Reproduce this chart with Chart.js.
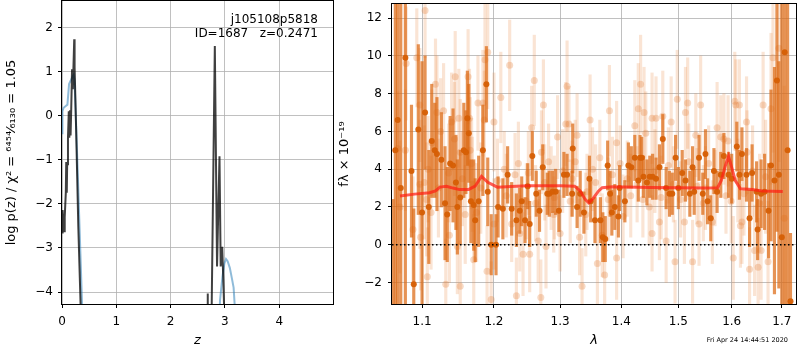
<!DOCTYPE html>
<html>
<head>
<meta charset="utf-8">
<script src="https://cdn.jsdelivr.net/npm/chart.js@4.4.1/dist/chart.umd.min.js"></script>
<style>
  body { margin: 0; background: #fff; }
  #wrap { position: relative; width: 800px; height: 350px; overflow: hidden; }
  #left { position: absolute; left: 0; top: 0; }
  #right { position: absolute; left: 334px; top: 0; }
</style>
</head>
<body>
<div id="wrap">
  <canvas id="left" width="340" height="350"></canvas>
  <canvas id="right" width="466" height="350"></canvas>
</div>
<script>
// ---- left panel: log p(z) ----
var zDark = [0.003, 0.012, 0.025, 0.04, 0.05, 0.07, 0.078, 0.088, 0.095, 0.11,
  0.125, 0.135, 0.148, 0.158, 0.17, 0.185, 0.2, 0.21, 0.225, 0.232,
  0.26, 0.3, 0.344, 0.4, 2.64, 2.672, 2.68, 2.688, 2.745, 2.814,
  2.855, 2.9, 2.922, 2.95, 2.97, 3.0, 3.1];
var pDark = [-2.65, -2.14, -2.6, -2.62, -2.3, -1.75, -1.05, -1.75, -1.1, -0.5,
  0.1, -0.5, 0.12, -0.45, 0.15, 1.05, 0.6, 1.05, 1.73, 1.1,
  -0.3, -2.5, -4.35, -8, -8, -4.6, -4.03, -4.6, -5.5, 1.58,
  -3.42, -0.92, -3.42, -2.97, -3.7, -5, -9];

var zBlue = [0, 0.008, 0.03, 0.07, 0.1, 0.13, 0.17, 0.2, 0.215, 0.23,
  0.25, 0.29, 0.33, 0.37, 0.42, 2.85, 2.91, 2.955, 2.99, 3.02,
  3.05, 3.09, 3.13, 3.16, 3.19, 3.25, 4.99];
var pBlue = [-0.4, 0.1, 0.18, 0.22, 0.25, 0.72, 0.82, 0.9, 0.93, 0.8,
  0.15, -1.3, -2.8, -4.3, -6.5, -6, -4.18, -3.65, -3.35, -3.25,
  -3.3, -3.45, -3.7, -3.9, -4.5, -6, -12];

// ---- right panel: spectrum ----
var lamTicks = [1.1, 1.2, 1.3, 1.4, 1.5, 1.6, 1.7];

var lightLam = [1.068,1.071,1.078,1.079,1.088,1.093,1.097,1.097,1.098,1.103,
  1.104,1.106,1.107,1.108,1.112,1.113,1.118,1.120,1.122,1.125,
  1.129,1.132,1.136,1.137,1.140,1.144,1.145,1.148,1.150,1.152,
  1.152,1.155,1.159,1.163,1.165,1.166,1.168,1.169,1.171,1.175,
  1.177,1.181,1.184,1.186,1.187,1.190,1.191,1.196,1.200,1.200,
  1.205,1.210,1.215,1.218,1.223,1.226,1.231,1.233,1.236,1.238,
  1.243,1.248,1.251,1.253,1.256,1.260,1.262,1.266,1.270,1.271,
  1.274,1.276,1.278,1.282,1.286,1.290,1.291,1.296,1.300,1.304,
  1.309,1.311,1.314,1.316,1.319,1.324,1.327,1.331,1.335,1.341,
  1.343,1.348,1.352,1.357,1.360,1.364,1.368,1.372,1.378,1.380,
  1.385,1.392,1.392,1.398,1.403,1.410,1.416,1.423,1.427,1.429,
  1.433,1.437,1.439,1.442,1.448,1.453,1.453,1.458,1.460,1.466,
  1.469,1.472,1.478,1.482,1.487,1.491,1.494,1.498,1.504,1.511,
  1.513,1.517,1.519,1.526,1.532,1.534,1.538,1.541,1.546,1.550,
  1.556,1.563,1.568,1.572,1.579,1.585,1.589,1.593,1.599,1.603,
  1.606,1.608,1.612,1.615,1.617,1.620,1.624,1.629,1.630,1.635,
  1.641,1.645,1.652,1.655,1.658,1.662,1.667,1.672,1.678,1.682,
  1.694,1.705];
var lightFlux = [5.1,2.0,5.0,9.6,0.8,9.9,7.4,3.2,0.4,3.3,
  12.4,2.4,-1.7,4.0,1.7,5.4,8.5,7.0,3.0,6.0,
  7.1,-2.1,3.8,0.5,6.5,5.6,8.9,-0.1,6.7,4.9,
  -2.2,3.5,1.6,8.9,6.7,5.0,4.3,3.2,-0.8,1.7,
  7.5,3.0,7.5,6.6,9.8,-1.4,10.2,-2.9,6.5,1.1,
  3.4,7.8,4.0,2.6,9.5,1.1,3.7,-2.7,4.3,0.6,
  -0.5,2.3,3.8,-0.5,6.2,8.7,2.2,0.2,-2.8,4.9,
  7.4,3.3,-0.1,4.4,3.0,1.6,2.5,5.7,0.6,3.9,
  6.4,8.4,6.4,2.3,3.5,4.4,5.8,0.4,-2.2,1.6,
  2.8,6.6,4.0,3.3,-1.0,4.6,0.5,-1.6,2.4,7.1,
  3.7,-0.7,5.4,4.3,1.5,3.5,2.6,6.3,3.2,7.2,
  8.5,2.4,7.0,5.9,2.0,6.7,0.6,3.9,6.7,1.2,
  2.5,6.8,0.2,4.2,6.5,3.2,-0.9,7.7,2.4,1.2,
  7.0,7.5,4.4,-0.9,5.8,3.1,1.1,7.4,2.2,3.0,
  4.3,1.2,3.0,6.2,5.7,5.6,2.6,5.5,2.3,-0.7,
  7.6,7.4,3.4,7.4,1.0,1.2,2.7,6.5,4.9,-1.3,
  3.9,-0.3,-1.2,2.2,-0.3,7.4,3.6,-0.9,7.2,9.9,
  10.4,1.4];
var lightErr = [3.0,3.5,3.2,3.0,2.8,2.6,3.0,3.4,2.8,3.0,
  2.5,3.0,2.6,2.8,3.0,2.8,2.4,3.0,2.6,2.8,
  2.5,2.4,2.6,2.5,2.6,3.0,2.4,2.5,2.6,2.8,
  2.4,2.5,2.6,2.5,2.6,2.8,2.4,2.5,2.4,2.6,
  2.5,2.4,2.8,2.6,3.2,2.4,3.0,2.0,2.6,2.4,
  2.2,2.4,2.0,2.2,2.4,2.0,2.2,2.0,2.2,2.0,
  2.2,2.0,2.2,2.0,2.2,2.4,2.0,2.2,2.0,2.2,
  2.4,2.0,2.2,2.0,2.2,2.0,2.2,2.2,2.0,2.2,
  2.2,2.4,2.0,2.2,2.0,2.2,2.2,2.0,2.0,2.2,
  2.0,2.4,2.2,2.0,2.2,2.0,2.2,2.0,2.2,2.4,
  2.0,2.2,2.2,2.0,2.2,2.0,2.2,2.4,2.0,2.4,
  2.6,2.0,2.4,2.2,2.0,2.4,2.0,2.2,2.2,2.0,
  2.2,2.4,2.2,2.0,2.4,2.0,2.2,2.6,2.0,2.2,
  2.4,2.4,2.0,2.2,2.2,2.0,2.2,2.6,2.0,2.2,
  2.0,2.2,2.0,2.4,2.2,2.4,2.0,2.4,2.2,2.2,
  2.6,2.4,2.2,2.4,2.2,2.2,2.2,2.4,2.2,2.2,
  2.4,2.4,2.6,2.6,2.6,2.8,3.0,3.2,4.0,5.0,
  6.0,7.0];

var darkLam = [1.062,1.065,1.068,1.072,1.078,1.086,1.089,1.095,1.100,1.104,
  1.109,1.113,1.117,1.120,1.126,1.131,1.134,1.138,1.142,1.146,
  1.148,1.152,1.157,1.160,1.162,1.164,1.167,1.171,1.173,1.178,
  1.184,1.189,1.191,1.196,1.203,1.206,1.213,1.220,1.226,1.233,
  1.238,1.241,1.246,1.250,1.253,1.257,1.263,1.268,1.273,1.280,
  1.283,1.288,1.293,1.298,1.306,1.311,1.319,1.320,1.327,1.332,
  1.338,1.347,1.349,1.356,1.365,1.369,1.373,1.377,1.381,1.384,
  1.389,1.395,1.397,1.406,1.412,1.417,1.423,1.429,1.432,1.435,
  1.438,1.444,1.449,1.454,1.460,1.466,1.472,1.478,1.484,1.489,
  1.495,1.500,1.507,1.513,1.521,1.526,1.529,1.538,1.545,1.550,
  1.554,1.560,1.566,1.572,1.579,1.585,1.594,1.600,1.610,1.615,
  1.620,1.629,1.635,1.640,1.649,1.651,1.658,1.665,1.673,1.678,
  1.685,1.690,1.694,1.700,1.706,1.712,1.718];
var darkFlux = [-3.4,5.0,6.6,3.0,9.9,3.9,-2.1,6.1,1.7,7.0,
  2.0,5.5,5.0,4.8,4.5,2.2,1.6,4.3,4.2,3.3,
  2.0,2.5,5.0,4.9,6.7,5.9,2.3,2.1,1.3,2.3,
  5.0,8.5,2.8,0.0,0.0,2.0,1.9,3.7,1.9,1.3,
  1.8,2.3,1.3,3.1,1.1,4.7,2.7,1.8,4.1,2.7,
  2.7,2.8,2.8,1.8,3.7,3.7,2.7,5.1,2.0,2.7,
  1.7,3.5,2.3,1.3,1.3,0.4,0.3,4.2,2.7,1.7,
  2.0,1.5,3.0,2.3,4.2,4.1,4.6,3.4,4.6,4.6,
  3.6,3.3,3.6,3.6,3.5,4.1,5.6,3.0,2.7,2.7,
  4.6,3.0,3.8,3.4,2.7,4.1,2.8,4.6,2.7,4.8,
  2.3,1.4,3.9,2.8,3.7,4.7,3.7,3.5,5.2,3.7,
  4.8,3.7,1.4,3.8,2.8,0.8,2.7,2.8,1.8,4.2,
  3.4,8.7,3.7,0.4,10.2,5.0,-3.0];
var darkErr = [5.8,20,20,20,20,3.5,4.0,4.5,8.0,3.0,
  3.0,3.0,2.5,3.0,2.5,3.0,2.5,2.5,3.0,2.5,
  2.5,2.5,2.5,2.2,2.5,2.6,2.2,2.4,2.2,2.4,
  2.4,2.0,1.8,1.6,1.6,1.6,1.6,1.5,1.4,1.4,
  1.2,1.3,1.2,1.2,1.2,1.3,1.2,1.1,1.2,1.1,
  1.2,1.1,1.2,1.1,1.2,1.1,1.2,1.3,1.1,1.2,
  1.1,1.2,1.1,1.2,1.2,1.3,1.2,1.3,1.2,1.2,
  1.2,1.1,1.2,1.1,1.2,1.1,1.2,1.1,1.2,1.1,
  1.1,1.2,1.1,1.2,1.1,1.2,1.3,1.1,1.2,1.1,
  1.2,1.1,1.2,1.1,1.2,1.1,1.2,1.2,1.1,1.3,
  1.2,1.2,1.2,1.1,1.2,1.2,1.2,1.3,1.3,1.3,
  1.4,1.4,1.5,1.5,1.6,1.6,1.8,2.0,2.5,4.0,
  6.0,8.0,6.0,20,20,20,3.6];

var modelLam = [1.071,1.090,1.110,1.118,1.124,1.133,1.142,1.151,1.164,1.173,
  1.182,1.191,1.205,1.225,1.250,1.300,1.323,1.332,1.340,1.346,
  1.353,1.362,1.368,1.385,1.450,1.500,1.550,1.573,1.580,1.588,
  1.594,1.600,1.607,1.617,1.640,1.660,1.702];
var modelFlux = [2.58,2.68,2.75,2.85,3.05,3.1,3.0,2.92,2.93,3.1,
  3.62,3.31,3.05,3.08,3.12,3.12,3.1,2.85,2.4,2.22,
  2.45,2.85,3.02,3.07,3.03,3.02,3.0,3.02,3.4,4.2,
  4.68,4.1,3.4,2.96,2.93,2.84,2.82];

Chart.defaults.font.family = "'DejaVu Sans', sans-serif";
Chart.defaults.font.size = 12;
Chart.defaults.color = '#000';

function minus(v) { return String(v).replace('-', '\u2212'); }
function pts(xs, ys) { return xs.map(function (x, i) { return { x: x, y: ys[i] }; }); }
function bars(xs, ys, es) {
  return xs.map(function (x, i) { return { x: x, y: [ys[i] - es[i], ys[i] + es[i]] }; });
}

var frame = {
  id: 'frame',
  afterDatasetsDraw: function (chart) {
    var a = chart.chartArea, ctx = chart.ctx;
    ctx.save();
    ctx.strokeStyle = '#000';
    ctx.lineWidth = 1;
    ctx.strokeRect(Math.round(a.left) - 0.5, Math.round(a.top) - 0.5,
      Math.round(a.right - a.left) + 1, Math.round(a.bottom - a.top) + 1);
    ctx.restore();
  }
};

var gridOpts = { color: '#b0b0b0', lineWidth: 0.8, tickColor: '#000', tickLength: 4, tickWidth: 1 };

new Chart(document.getElementById('left'), {
  type: 'line',
  data: {
    datasets: [
      { data: pts(zDark, pDark), borderColor: 'rgba(0,0,0,0.75)', borderWidth: 2, pointRadius: 0 },
      { data: pts(zBlue, pBlue), borderColor: 'rgba(31,119,180,0.5)', borderWidth: 2, pointRadius: 0 }
    ]
  },
  options: {
    responsive: false,
    animation: false,
    events: [],
    layout: { padding: { top: 1, right: 7, left: 0, bottom: 0 } },
    plugins: { legend: { display: false }, tooltip: { enabled: false } },
    scales: {
      x: {
        type: 'linear', min: 0, max: 4.99,
        afterFit: function (s) { s.height = 46; s.paddingLeft = 0; s.paddingRight = 0; },
        ticks: { stepSize: 1, includeBounds: false, padding: 7, maxRotation: 0 },
        grid: gridOpts, border: { display: false },
        title: { display: true, text: 'z', font: { style: 'italic', size: 13 }, padding: { top: 0, bottom: 2 } }
      },
      y: {
        min: -4.27, max: 2.6,
        afterFit: function (s) { s.width = 62; s.paddingTop = 0; s.paddingBottom = 0; },
        ticks: { stepSize: 1, includeBounds: false, padding: 5, callback: minus },
        grid: gridOpts, border: { display: false },
        title: {
          display: true, text: 'log p(z) / \u03c7\u00b2 = \u2076\u2074\u2075\u2074\u2044\u2086\u2081\u2083\u2080 = 1.05',
          font: { size: 13 }, padding: { top: 4, bottom: 0 }
        }
      }
    }
  },
  plugins: [frame, {
    id: 'label',
    afterDraw: function (chart) {
      var a = chart.chartArea, ctx = chart.ctx;
      ctx.save();
      ctx.fillStyle = '#000';
      ctx.font = "12px 'DejaVu Sans'";
      ctx.textAlign = 'right';
      ctx.textBaseline = 'middle';
      ctx.fillText('j105108p5818', a.right - 15, 20);
      ctx.fillText('ID=1687   z=0.2471', a.right - 15, 34);
      ctx.restore();
    }
  }]
});

new Chart(document.getElementById('right'), {
  type: 'bar',
  data: {
    datasets: [
      { type: 'line', data: [{ x: 1.0607, y: 0 }, { x: 1.7295, y: 0 }], borderColor: '#000',
        borderWidth: 1.5, borderDash: [1.5, 2.5], pointRadius: 0, order: 0 },
      { type: 'line', data: pts(modelLam, modelFlux), borderColor: 'rgba(255,30,20,0.72)',
        borderWidth: 3, pointRadius: 0, order: 1 },
      { type: 'line', data: pts(darkLam, darkFlux), showLine: false, pointRadius: 3, pointBorderWidth: 0,
        pointBackgroundColor: 'rgba(214,95,5,0.95)', order: 2 },
      { type: 'bar', data: bars(darkLam, darkFlux, darkErr), barThickness: 2.5, grouped: false,
        backgroundColor: 'rgba(220,105,20,0.72)', borderWidth: 0, order: 3 },
      { type: 'line', data: pts(lightLam, lightFlux), showLine: false, pointRadius: 3.5, pointBorderWidth: 0,
        pointBackgroundColor: 'rgba(230,130,60,0.3)', order: 4 },
      { type: 'bar', data: bars(lightLam, lightFlux, lightErr), barThickness: 2.5, grouped: false,
        backgroundColor: 'rgba(230,130,60,0.22)', borderWidth: 0, order: 5 }
    ]
  },
  options: {
    responsive: false,
    animation: false,
    events: [],
    layout: { padding: { top: 1, right: 1, left: 0, bottom: 0 } },
    plugins: { legend: { display: false }, tooltip: { enabled: false } },
    scales: {
      x: {
        type: 'logarithmic', min: 1.0607, max: 1.7295, offset: false,
        afterBuildTicks: function (s) { s.ticks = lamTicks.map(function (v) { return { value: v }; }); },
        afterFit: function (s) { s.height = 46; s.paddingLeft = 0; s.paddingRight = 0; },
        ticks: { autoSkip: false, padding: 7, maxRotation: 0, callback: function (v) { return Number(v).toFixed(1); } },
        grid: Object.assign({ offset: false }, gridOpts), border: { display: false },
        title: { display: true, text: '\u03bb', font: { style: 'italic', size: 13 }, padding: { top: 0, bottom: 2 } }
      },
      y: {
        type: 'linear', min: -3.14, max: 12.75, beginAtZero: false,
        afterFit: function (s) { s.width = 58; s.paddingTop = 0; s.paddingBottom = 0; },
        ticks: { stepSize: 2, includeBounds: false, padding: 6, callback: minus },
        grid: gridOpts, border: { display: false },
        title: { display: true, text: 'f\u03bb \u00d7 10\u207b\u00b9\u2079', font: { size: 13 }, padding: { top: 3, bottom: 0 } }
      }
    }
  },
  plugins: [frame, {
    id: 'stamp',
    afterDraw: function (chart) {
      var ctx = chart.ctx;
      ctx.save();
      ctx.fillStyle = '#000';
      ctx.font = "6.5px 'DejaVu Sans'";
      ctx.textAlign = 'right';
      ctx.textBaseline = 'middle';
      ctx.fillText('Fri Apr 24 14:44:51 2020', 454, 340);
      ctx.restore();
    }
  }]
});
</script>
</body>
</html>
